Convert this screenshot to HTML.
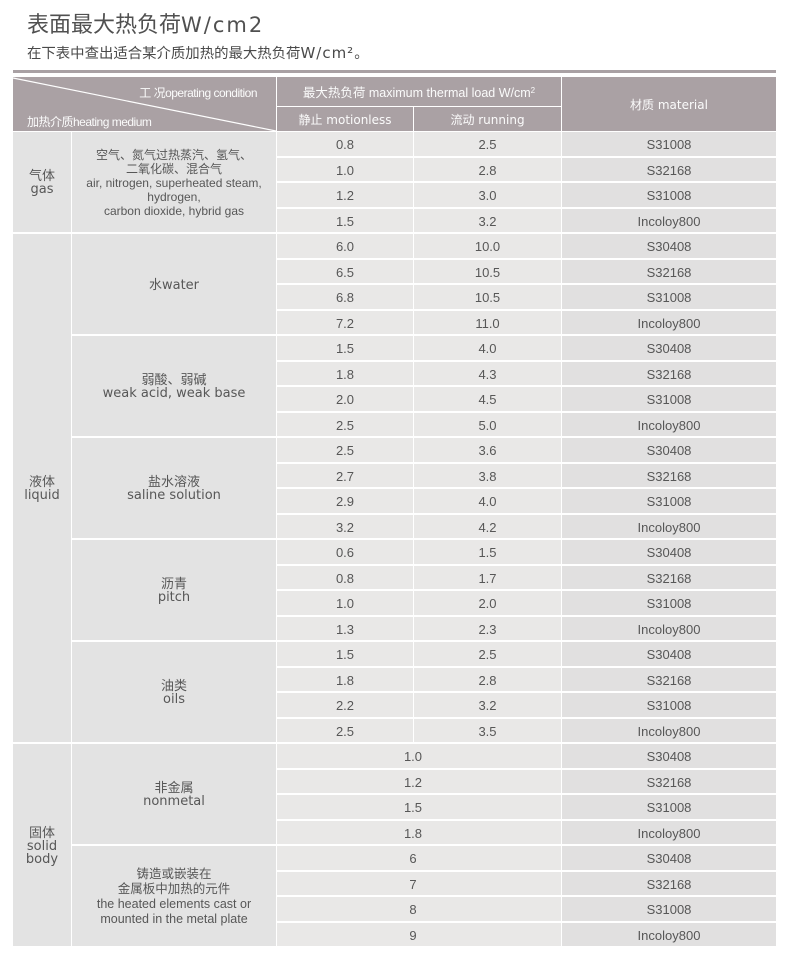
<!DOCTYPE html>
<html>
<head>
<meta charset="utf-8">
<style>
  html,body{margin:0;padding:0;background:#fff;}
  body{width:790px;height:959px;position:relative;overflow:hidden;
       font-family:"Liberation Sans","Noto Sans CJK SC",sans-serif;color:#575757;}
  .title{position:absolute;left:27px;top:8px;height:30px;line-height:30px;font-size:22px;color:#505050;white-space:nowrap;
         font-family:"Noto Sans CJK SC",sans-serif;}
  .title .lat{font-family:"DejaVu Sans",sans-serif;letter-spacing:2px;font-size:21px;}
  .sub{position:absolute;left:27px;top:42px;height:21px;line-height:21px;font-size:14.4px;color:#4a4a4a;white-space:nowrap;
       font-family:"Noto Sans CJK SC",sans-serif;}
  .sub .lat{font-family:"DejaVu Sans",sans-serif;font-size:15px;letter-spacing:1px;}
  .topline{position:absolute;left:13px;top:70px;width:763px;height:3px;background:#a9a1a4;}
  .h{position:absolute;background:#aaa1a4;color:#fbfbfb;display:flex;align-items:center;justify-content:center;white-space:nowrap;}
  .dv{font-family:"DejaVu Sans","Noto Sans CJK SC",sans-serif;}
  .g{position:absolute;left:13px;top:132px;width:763px;height:814px;display:grid;
     grid-template-columns:58px 204px 136px 147px 214px;column-gap:1px;row-gap:2px;
     grid-template-rows:repeat(32,1fr);}
  .g>div{display:flex;align-items:center;justify-content:center;text-align:center;}
  .c1{grid-column:1;background:#e3e3e3;font-family:"DejaVu Sans","Noto Sans CJK SC",sans-serif;font-size:13px;line-height:13px;padding-top:2px;}
  .c2{grid-column:2;background:#e3e3e3;font-family:"DejaVu Sans","Noto Sans CJK SC",sans-serif;font-size:13px;line-height:13px;padding-top:2px;}
  .c2.lib{font-family:"Liberation Sans","Noto Sans CJK SC",sans-serif;font-size:12px;line-height:14px;}
  .c2.lib2{font-family:"Liberation Sans","Noto Sans CJK SC",sans-serif;font-size:12.5px;line-height:15px;}
  .v1,.v2,.vs,.m{padding-top:2px;box-sizing:border-box;}
  .v1{grid-column:3;background:#e9e8e7;font-size:13px;}
  .v2{grid-column:4;background:#e9e8e7;font-size:13px;}
  .vs{grid-column:3 / 5;background:#e9e8e7;font-size:13px;padding-right:12px;}
  .m{grid-column:5;background:#e1e0e0;font-size:13px;}
  .s4{grid-row:span 4;}
  .s20{grid-row:span 20;}
  .s8{grid-row:span 8;}
</style>
</head>
<body>
<div class="title">表面最大热负荷<span class="lat">W/cm2</span></div>
<div class="sub">在下表中查出适合某介质加热的最大热负荷<span class="lat">W/cm²</span>。</div>
<div class="topline"></div>

<!-- header -->
<div class="h" style="left:13px;top:77px;width:263px;height:54px;"></div>
<svg style="position:absolute;left:13px;top:77px;" width="263" height="54">
  <line x1="0" y1="1" x2="263" y2="54" stroke="#ffffff" stroke-width="1.2"/>
</svg>
<div style="position:absolute;left:100px;top:85px;width:157px;text-align:right;font-size:12px;letter-spacing:-0.5px;color:#fbfbfb;white-space:nowrap;line-height:16px;">工 况operating condition</div>
<div style="position:absolute;left:27px;top:114px;font-size:12px;letter-spacing:-0.5px;color:#fbfbfb;white-space:nowrap;line-height:16px;">加热介质heating medium</div>

<div class="h" style="left:277px;top:77px;width:284px;height:29px;font-size:12.5px;">最大热负荷 maximum thermal load W/cm<sup style="font-size:8px;position:relative;top:-1px;">2</sup></div>
<div class="h dv" style="left:277px;top:107px;width:136px;height:24px;font-size:12px;">静止 motionless</div>
<div class="h dv" style="left:414px;top:107px;width:147px;height:24px;font-size:12px;">流动 running</div>
<div class="h dv" style="left:562px;top:77px;width:214px;height:54px;font-size:12px;">材质 material</div>

<div class="g">
  <!-- gas -->
  <div class="c1 s4">气体<br>gas</div>
  <div class="c2 lib s4">空气、氮气过热蒸汽、氢气、<br>二氧化碳、混合气<br>air, nitrogen, superheated steam,<br>hydrogen,<br>carbon dioxide, hybrid gas</div>
  <div class="v1">0.8</div><div class="v2">2.5</div><div class="m">S31008</div>
  <div class="v1">1.0</div><div class="v2">2.8</div><div class="m">S32168</div>
  <div class="v1">1.2</div><div class="v2">3.0</div><div class="m">S31008</div>
  <div class="v1">1.5</div><div class="v2">3.2</div><div class="m">Incoloy800</div>

  <!-- liquid -->
  <div class="c1 s20">液体<br>liquid</div>
  <div class="c2 s4">水water</div>
  <div class="v1">6.0</div><div class="v2">10.0</div><div class="m">S30408</div>
  <div class="v1">6.5</div><div class="v2">10.5</div><div class="m">S32168</div>
  <div class="v1">6.8</div><div class="v2">10.5</div><div class="m">S31008</div>
  <div class="v1">7.2</div><div class="v2">11.0</div><div class="m">Incoloy800</div>

  <div class="c2 s4">弱酸、弱碱<br>weak acid, weak base</div>
  <div class="v1">1.5</div><div class="v2">4.0</div><div class="m">S30408</div>
  <div class="v1">1.8</div><div class="v2">4.3</div><div class="m">S32168</div>
  <div class="v1">2.0</div><div class="v2">4.5</div><div class="m">S31008</div>
  <div class="v1">2.5</div><div class="v2">5.0</div><div class="m">Incoloy800</div>

  <div class="c2 s4">盐水溶液<br>saline solution</div>
  <div class="v1">2.5</div><div class="v2">3.6</div><div class="m">S30408</div>
  <div class="v1">2.7</div><div class="v2">3.8</div><div class="m">S32168</div>
  <div class="v1">2.9</div><div class="v2">4.0</div><div class="m">S31008</div>
  <div class="v1">3.2</div><div class="v2">4.2</div><div class="m">Incoloy800</div>

  <div class="c2 s4">沥青<br>pitch</div>
  <div class="v1">0.6</div><div class="v2">1.5</div><div class="m">S30408</div>
  <div class="v1">0.8</div><div class="v2">1.7</div><div class="m">S32168</div>
  <div class="v1">1.0</div><div class="v2">2.0</div><div class="m">S31008</div>
  <div class="v1">1.3</div><div class="v2">2.3</div><div class="m">Incoloy800</div>

  <div class="c2 s4">油类<br>oils</div>
  <div class="v1">1.5</div><div class="v2">2.5</div><div class="m">S30408</div>
  <div class="v1">1.8</div><div class="v2">2.8</div><div class="m">S32168</div>
  <div class="v1">2.2</div><div class="v2">3.2</div><div class="m">S31008</div>
  <div class="v1">2.5</div><div class="v2">3.5</div><div class="m">Incoloy800</div>

  <!-- solid -->
  <div class="c1 s8">固体<br>solid<br>body</div>
  <div class="c2 s4">非金属<br>nonmetal</div>
  <div class="vs">1.0</div><div class="m">S30408</div>
  <div class="vs">1.2</div><div class="m">S32168</div>
  <div class="vs">1.5</div><div class="m">S31008</div>
  <div class="vs">1.8</div><div class="m">Incoloy800</div>

  <div class="c2 lib2 s4">铸造或嵌装在<br>金属板中加热的元件<br>the heated elements cast or<br>mounted in the metal plate</div>
  <div class="vs">6</div><div class="m">S30408</div>
  <div class="vs">7</div><div class="m">S32168</div>
  <div class="vs">8</div><div class="m">S31008</div>
  <div class="vs">9</div><div class="m">Incoloy800</div>
</div>
</body>
</html>
